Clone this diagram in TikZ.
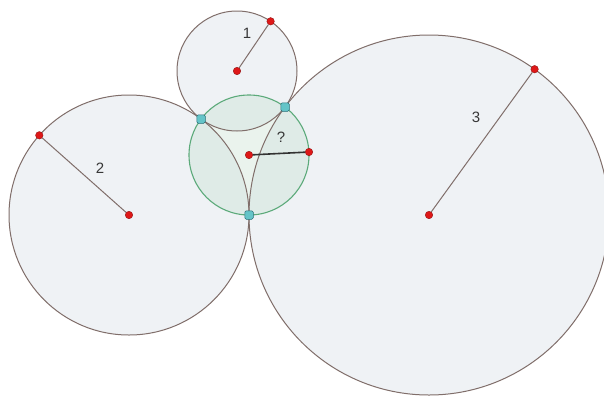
\documentclass[tikz,border=0pt]{standalone}
\usepackage{fontspec}
\setmainfont{Liberation Sans}
\definecolor{rim}{RGB}{128,110,106}
\definecolor{bluefill}{RGB}{224,231,237}
\definecolor{grn}{RGB}{92,170,122}
\definecolor{grnfill}{RGB}{196,222,206}
\definecolor{reddot}{RGB}{222,24,24}
\definecolor{reddraw}{RGB}{150,20,20}
\definecolor{cyanfill}{RGB}{100,196,200}
\definecolor{cyandraw}{RGB}{40,110,120}
\definecolor{labelc}{RGB}{55,55,55}
\begin{document}
\begin{tikzpicture}[x=1pt,y=-1pt,
  bigcirc/.style={fill=bluefill,fill opacity=0.5},
  greencirc/.style={fill=grnfill,fill opacity=0.35},
  rimline/.style={draw=rim,line width=1pt},
  grnline/.style={draw=grn,line width=1.1pt},
  rdot/.style={circle,fill=reddot,draw=reddraw,line width=0.4pt,inner sep=0pt,minimum size=7.5pt},
  cdot/.style={rounded corners=1.5pt,rectangle,fill=cyanfill,draw=cyandraw,line width=0.5pt,inner sep=0pt,minimum size=8.5pt},
  radline/.style={draw=rim,line width=1pt},
  qline/.style={draw=black!80,line width=1.6pt},
  lab/.style={text=labelc,font=\fontsize{15}{15}\selectfont,inner sep=0pt}]
\fill[white] (0,0) rectangle (604,397);
\useasboundingbox (0,0) rectangle (604,397);
% circle fills
\path[bigcirc] (237,71) circle[radius=60];
\path[bigcirc] (129,215) circle[radius=120];
\path[bigcirc] (429,215) circle[radius=180];
\path[greencirc] (249,155) circle[radius=60];
% outlines
\draw[rimline] (237,71) circle[radius=60];
\draw[rimline] (129,215) circle[radius=120];
\draw[rimline] (429,215) circle[radius=180];
\draw[grnline] (249,155) circle[radius=60];
% centres and radius points
\node[rdot] (c1) at (237,71) {};
\node[rdot] (p1) at (270.6,21.3) {};
\node[rdot] (c2) at (129,215) {};
\node[rdot] (p2) at (39.3,135.3) {};
\node[rdot] (c3) at (429,215) {};
\node[rdot] (p3) at (534.6,69.2) {};
\node[rdot] (cg) at (249,155) {};
\node[rdot] (pg) at (309,152) {};
\draw[radline] (c1) -- (p1);
\draw[radline] (c2) -- (p2);
\draw[radline] (c3) -- (p3);
\draw[qline] (cg) -- (pg);
% tangency points
\node[cdot] (t12) at (201,119) {};
\node[cdot] (t13) at (285,107) {};
\node[cdot] (t23) at (249,215) {};
% labels
\node[lab] (l1) at (247,33) {1};
\node[lab] (l2) at (100,168) {2};
\node[lab] (l3) at (476,117) {3};
\node[lab] (lq) at (281,137) {?};
\end{tikzpicture}
\end{document}
